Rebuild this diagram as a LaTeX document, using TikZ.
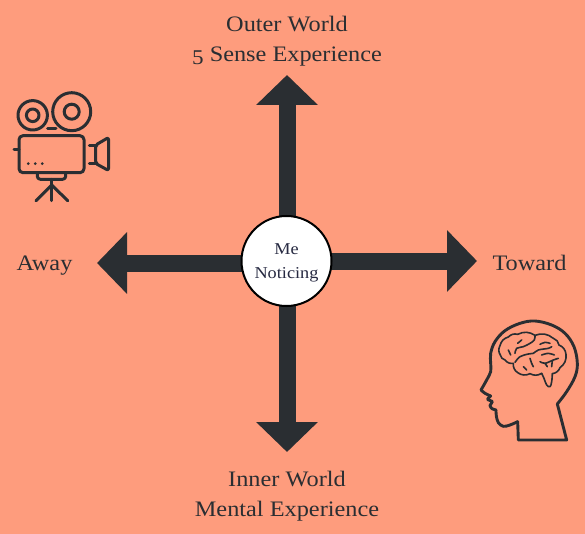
\documentclass[tikz,border=0pt]{standalone}
\usepackage{fontspec}
\setmainfont{Liberation Serif}[FakeStretch=1.1]
\usetikzlibrary{arrows.meta}
\definecolor{bgc}{HTML}{FE9C7D}
\definecolor{ink}{HTML}{2A2E32}
\tikzset{
  axisarrow/.style={draw=ink,line width=17pt,-{Triangle[length=30pt,width=60pt]}},
  label/.style={text=ink,font=\fontsize{22.1}{30}\selectfont,align=center,inner sep=0pt},
  icon/.style={draw=ink,line width=3pt,line cap=round,line join=round},
  headline/.style={draw=ink,line width=2.9pt,line cap=round,line join=round},
  fineicon/.style={draw=ink,line width=1.6pt,line cap=round,line join=round},
  lobe/.style={bend left=30}
}
\newcommand{\lowfive}{\raisebox{-3.6pt}{\scalebox{.95}{5}}}
\begin{document}
\begin{tikzpicture}[x=1pt,y=-1pt]
\useasboundingbox (0,0) rectangle (585,534);
\fill[bgc] (0,0) rectangle (585,534);
\coordinate (topS) at (287,240); \coordinate (topT) at (287,75);
\coordinate (botS) at (287,285); \coordinate (botT) at (287,452);
\coordinate (lefS) at (265,263); \coordinate (lefT) at (97,263);
\coordinate (rigS) at (310,261); \coordinate (rigT) at (477,261);
\draw[axisarrow] (topS) -- (topT);
\draw[axisarrow] (botS) -- (botT);
\draw[axisarrow] (lefS) -- (lefT);
\draw[axisarrow] (rigS) -- (rigT);
\node[circle,draw=black,fill=white,line width=2pt,minimum size=90pt,inner sep=0pt] (me) at (286.5,261) {};
\node[align=center,inner sep=0pt,text=ink!92!blue,font=\fontsize{16.6}{24.5}\selectfont] (metext) at (286.5,263) {Me\\Noticing};
\node[label] (outer) at (287,41) {Outer World\\\lowfive{} Sense Experience};
\node[label] (inner) at (287,496) {Inner World\\Mental Experience};
\node[label] (away) at (44.5,265.5) {Away};
\node[label] (toward) at (529.5,262.5) {Toward};
% camera
\begin{scope}[icon]
\draw (71.7,111.7) circle (19);
\draw (71.7,111.7) circle (7.5);
\draw (32.7,115.3) circle (14.7);
\draw (32.7,115.3) circle (6.3);
\draw (47.7,129) -- (56,129);
\draw[rounded corners=4pt] (19,135.7) rectangle (84,172.7);
\draw (14,150) -- (19,150);
\draw (89.3,145.7) -- (95.7,145.7);
\draw (89.3,163.3) -- (95.7,163.3);
\draw[rounded corners=2pt] (95.7,145) -- (108.5,137.5) -- (108.5,170.5) -- (95.7,163.5) -- cycle;
\draw[rounded corners=3pt] (37.3,172.7) -- (37.3,179.3) -- (65.7,179.3) -- (65.7,172.7);
\draw (51.7,179.3) -- (51.7,200.7);
\draw (51.7,185) -- (36,200.7);
\draw (51.7,185) -- (67.7,200.7);
\fill[ink] (28.3,163.7) circle (1.5) (35.3,163.7) circle (1.5) (42.3,163.7) circle (1.5);
\end{scope}
% head
\begin{scope}[shift={(470,310)},x=0.3333pt,y=-0.3333pt]
\draw[headline] plot[smooth,tension=0.6] coordinates {(262,282) (290,245) (315,200) (322,160) (312,110) (285,70) (245,45) (195,33) (150,40) (105,62) (75,95) (62,130) (62,160) (62,185) (50,210) (33,240)};
\draw[headline] plot[smooth,tension=0.6] coordinates {(33,240) (45,250) (62,258)};
\draw[headline] plot[smooth,tension=0.5] coordinates {(62,258) (53,268) (67,275) (60,286) (66,296) (78,300)};
\draw[headline] plot[smooth,tension=0.6] coordinates {(78,300) (79,318) (85,338) (100,349) (120,345) (143,335)};
\draw[headline] (143,335) -- (145,390) -- (290,390) -- (262,282);
\end{scope}
% brain
\begin{scope}[shift={(495,325)},x=0.3333pt,y=-0.3333pt,fineicon]
\draw (16,90) to[lobe] (15,62) to[lobe] (40,36) to[lobe] (68,28) to[lobe] (120,31) to[lobe] (175,40) to[lobe] (192,60) to[lobe] (213,88) to[lobe] (195,128) to[lobe] (172,146);
\draw plot[smooth,tension=0.7] coordinates {(172,146) (170,170) (165,185) (155,180) (147,160) (140,145)};
\draw (140,145) to[lobe] (105,146) to[lobe] (68,143) to[lobe] (55,115) to[lobe] (30,105) to[lobe] (16,90);
\draw plot[smooth,tension=0.6] coordinates {(60,85) (65,70) (85,65) (105,55) (118,45) (120,31)};
\draw plot[smooth,tension=0.6] coordinates {(60,112) (75,95) (100,87) (115,85) (130,75) (160,70) (170,65)};
\draw plot[smooth,tension=0.6] coordinates {(135,58) (150,52) (165,55)};
\draw plot[smooth,tension=0.6] coordinates {(105,100) (110,115) (115,125)};
\draw plot[smooth,tension=0.6] coordinates {(140,90) (160,85) (178,90)};
\draw plot[smooth,tension=0.6] coordinates {(135,110) (150,115) (175,105) (190,100)};
\draw (150,115) -- (157,125);
\draw (172,107) -- (170,125);
\draw (85,125) -- (95,135);
\draw (40,75) -- (47,90);
\draw (80,45) -- (68,55);
\end{scope}
\end{tikzpicture}
\end{document}
